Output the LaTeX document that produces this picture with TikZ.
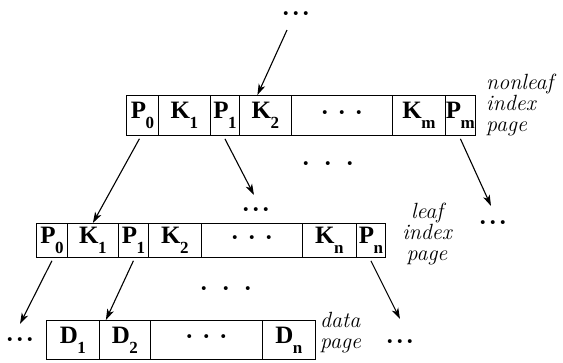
\documentclass[tikz,border=0pt]{standalone}
\usepackage{fontspec}
\newfontfamily\tf{Liberation Serif}
\usetikzlibrary{arrows.meta}
\newcommand\sym[2]{{\tf\bfseries\fontsize{25}{25}\selectfont #1\hspace{-0.5pt}\raisebox{-10pt}{\fontsize{17}{17}\selectfont #2}}}
\newcommand\celldots{{\tf\bfseries\fontsize{24}{24}\selectfont ·\hspace{9pt}·\hspace{9pt}·}}
\newcommand\looseddots{{\tf\bfseries\fontsize{24}{24}\selectfont ·\hspace{14pt}·\hspace{14pt}·}}
\newcommand\tightdots{{\tf\bfseries\fontsize{24}{24}\selectfont ·\hspace{2pt}·\hspace{2pt}·}}
\begin{document}
\begin{tikzpicture}[x=1pt,y=-1pt,
  cell/.style={draw, line width=0.8pt, inner sep=0pt, anchor=north west, minimum height=#1},
  arr/.style={line width=1.1pt, -{Stealth[length=11pt,width=7pt,inset=3pt]}},
  lbl/.style={font=\itshape\fontsize{22}{21}\selectfont, inner sep=0pt},
  dts/.style={inner sep=0pt}]
\useasboundingbox (0,0) rectangle (563,362);
% nonleaf index page (y 95-135)
\node[cell=40pt, minimum width=32pt] (nP0) at (126,95) {\sym{P}{0}};
\node[cell=40pt, minimum width=52pt] (nK1) at (158,95) {\sym{K}{1}};
\node[cell=40pt, minimum width=29pt] (nP1) at (210,95) {\sym{P}{1}};
\node[cell=40pt, minimum width=52pt] (nK2) at (239,95) {\sym{K}{2}};
\node[cell=40pt, minimum width=101pt] (nD) at (291,95) {\celldots};
\node[cell=40pt, minimum width=53pt] (nKm) at (392,95) {\sym{K}{m}};
\node[cell=40pt, minimum width=30pt] (nPm) at (445,95) {\sym{P}{m}};
\node[lbl, align=left, anchor=west] (nlab) at (486,105) {nonleaf\\index\\page};
% leaf index page (y 223-257)
\node[cell=34pt, minimum width=31pt] (lP0) at (36,223) {\sym{P}{0}};
\node[cell=34pt, minimum width=51pt] (lK1) at (67,223) {\sym{K}{1}};
\node[cell=34pt, minimum width=30pt] (lP1) at (118,223) {\sym{P}{1}};
\node[cell=34pt, minimum width=53pt] (lK2) at (148,223) {\sym{K}{2}};
\node[cell=34pt, minimum width=101pt] (lD) at (201,223) {\celldots};
\node[cell=34pt, minimum width=54pt] (lKn) at (302,223) {\sym{K}{n}};
\node[cell=34pt, minimum width=29pt] (lPn) at (356,223) {\sym{P}{n}};
\node[lbl, align=center] (llab) at (427,234) {leaf\\index\\page};
% data page (y 320-359)
\node[cell=39pt, minimum width=53pt] (dD1) at (46,320) {\sym{D}{1}};
\node[cell=39pt, minimum width=51pt] (dD2) at (99,320) {\sym{D}{2}};
\node[cell=39pt, minimum width=112pt] (dD) at (150,320) {\celldots};
\node[cell=39pt, minimum width=53pt] (dDn) at (262,320) {\sym{D}{n}};
\node[lbl, align=left, anchor=west] (dlab) at (320,333) {data\\page};
% dots
\node[dts, anchor=base] (top) at (296,21) {\tightdots};
\node[dts] (m1) at (328,167) {\looseddots};
\node[dts] (m2) at (256,213) {\tightdots};
\node[dts] (m3) at (493,226) {\tightdots};
\node[dts] (b1) at (226,292) {\looseddots};
\node[dts] (b2) at (20,343) {\tightdots};
\node[dts] (b3) at (400,345) {\tightdots};
% free ends
\coordinate (tops) at (287,30);
\coordinate (e1) at (254,195);
\coordinate (e2) at (491,206);
\coordinate (e3) at (20,324);
\coordinate (e4) at (400,319);
% arrows
\draw[arr] (tops) -- ([xshift=-8pt]nK2.north);
\draw[arr] ([xshift=-3pt,yshift=-3pt]nP0.south) -- (lK1.north);
\draw[arr] ([yshift=-3pt]nP1.south) -- (e1);
\draw[arr] ([yshift=-3pt]nPm.south) -- (e2);
\draw[arr] ([yshift=-3pt]lP0.south) -- (e3);
\draw[arr] ([yshift=-3pt]lP1.south) -- ([xshift=-19pt]dD2.north);
\draw[arr] ([yshift=-3pt]lPn.south) -- (e4);
\end{tikzpicture}
\end{document}
